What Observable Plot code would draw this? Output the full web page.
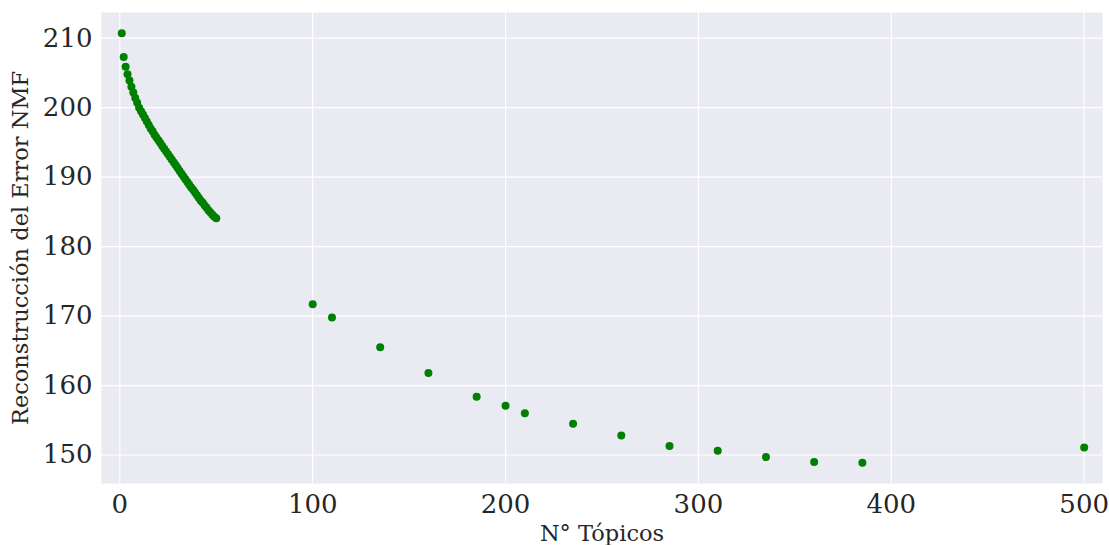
<!DOCTYPE html>
<html>
<head>
<meta charset="utf-8">
<script src="https://cdn.jsdelivr.net/npm/d3@7"></script>
<script src="https://cdn.jsdelivr.net/npm/@observablehq/plot@0.6"></script>
<style>
  html, body { margin: 0; padding: 0; background: #ffffff; }
  #chart { width: 1109px; height: 545px; }
</style>
</head>
<body>
<div id="chart"></div>
<script>
// Number of topics
const topics = [
  1, 2, 3, 4, 5, 6, 7, 8, 9, 10,
  11, 12, 13, 14, 15, 16, 17, 18, 19, 20,
  21, 22, 23, 24, 25, 26, 27, 28, 29, 30,
  31, 32, 33, 34, 35, 36, 37, 38, 39, 40,
  41, 42, 43, 44, 45, 46, 47, 48, 49, 50,
  100, 110, 135, 160, 185, 200, 210, 235, 260, 285, 310, 335, 360, 385, 500
];
// NMF reconstruction error
const errors = [
  210.7, 207.3, 205.9, 204.8, 203.9, 203.0, 202.2, 201.4, 200.7, 200.0,
  199.5, 199.0, 198.5, 198.0, 197.5, 197.0, 196.6, 196.1, 195.7, 195.3,
  194.9, 194.5, 194.1, 193.7, 193.3, 192.9, 192.5, 192.1, 191.7, 191.3,
  190.9, 190.5, 190.1, 189.7, 189.3, 188.9, 188.5, 188.2, 187.8, 187.4,
  187.0, 186.6, 186.3, 185.9, 185.6, 185.2, 184.9, 184.6, 184.3, 184.1,
  171.7, 169.8, 165.5, 161.8, 158.4, 157.1, 156.0, 154.5, 152.8, 151.3, 150.6, 149.7, 149.0, 148.9, 151.1
];
const xTicks = [0, 100, 200, 300, 400, 500];
const yTicks = [150, 160, 170, 180, 190, 200, 210];

const data = topics.map((t, i) => ({topics: t, error: errors[i]}));

const font = "'DejaVu Serif', serif";

const chart = Plot.plot({
  width: 1109,
  height: 545,
  marginLeft: 101,
  marginRight: 7,
  marginTop: 12,
  marginBottom: 62,
  style: {fontFamily: font, color: "#262626", background: "#ffffff"},
  x: {domain: [-9.5, 509.5]},
  y: {domain: [145.9, 213.7]},
  marks: [
    Plot.frame({fill: "#EAEAF2", stroke: null}),
    Plot.gridX(xTicks, {stroke: "#ffffff", strokeOpacity: 1, strokeWidth: 1.2}),
    Plot.gridY(yTicks, {stroke: "#ffffff", strokeOpacity: 1, strokeWidth: 1.2}),
    Plot.axisX({
      ticks: xTicks, tickSize: 0, tickPadding: 11, fontSize: 26,
      label: "N° Tópicos", labelAnchor: "center", labelOffset: 57, labelArrow: "none"
    }),
    Plot.axisY({
      ticks: yTicks, tickSize: 0, tickPadding: 9, fontSize: 26,
      label: "Reconstrucción del Error NMF", labelAnchor: "center", labelOffset: 89, labelArrow: "none"
    }),
    Plot.dot(data, {x: "topics", y: "error", r: 4, fill: "#008000", stroke: "none"})
  ]
});

// Axis label font sizes
chart.querySelectorAll("[aria-label='x-axis label'] text, [aria-label='y-axis label'] text").forEach(t => {
  t.setAttribute("font-size", "22.5");
});
document.getElementById("chart").appendChild(chart);
</script>
</body>
</html>
